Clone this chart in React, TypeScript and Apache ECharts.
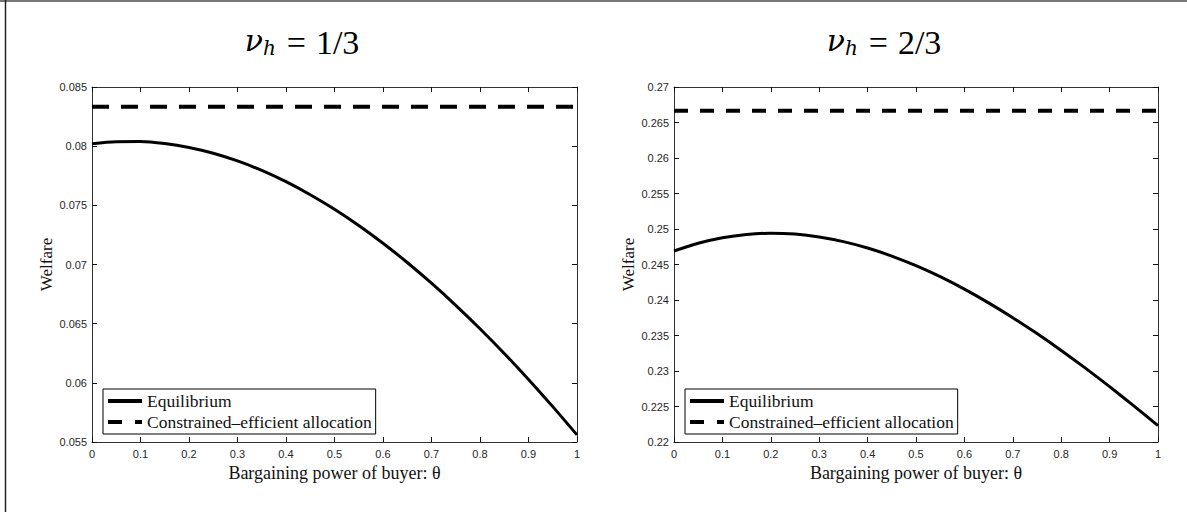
import React, { useEffect, useRef } from "react";
import * as echarts from "echarts";

const THETA = [0, 0.05, 0.1, 0.15, 0.2, 0.25, 0.3, 0.35, 0.4, 0.45, 0.5, 0.55, 0.6, 0.65, 0.7, 0.75, 0.8, 0.85, 0.9, 0.95, 1.0];
const EQ_LEFT = [0.0802, 0.08038, 0.08039, 0.08022, 0.07989, 0.0794, 0.07875, 0.07795, 0.077, 0.0759, 0.07467, 0.0733, 0.0718, 0.07017, 0.06842, 0.06655, 0.06457, 0.06248, 0.06029, 0.05799, 0.0556];
const EQ_RIGHT = [0.2469, 0.248, 0.24878, 0.24924, 0.2494, 0.24928, 0.24888, 0.24822, 0.24732, 0.24619, 0.24483, 0.24328, 0.24153, 0.2396, 0.23751, 0.23527, 0.2329, 0.2304, 0.22779, 0.22509, 0.2223];
const CE_LEFT = 0.08333;
const CE_RIGHT = 0.26667;
const SERIES_NAMES = ["Equilibrium", "Constrained–efficient allocation"];
const TITLES = ["1/3", "2/3"];
const X_NAME = "Bargaining power of buyer: θ";
const Y_NAME = "Welfare";
const Y_RANGES = [
  { min: 0.055, max: 0.085, interval: 0.005 },
  { min: 0.22, max: 0.27, interval: 0.005 },
];

const SERIF = "'Liberation Serif', 'Times New Roman', serif";
const SANS = "'Liberation Sans', Arial, sans-serif";

export default function App() {
  const ref = useRef<HTMLDivElement>(null);
  useEffect(() => {
    if (!ref.current) return;
    const chart = echarts.init(ref.current, null, { renderer: "svg" });
    const grids = [
      { left: 92, top: 87, width: 485, height: 355 },
      { left: 674, top: 87, width: 484, height: 355 },
    ];
    const xAxes: any[] = [];
    const yAxes: any[] = [];
    grids.forEach((g, gi) => {
      xAxes.push({
        type: "value", gridIndex: gi, min: 0, max: 1, interval: 0.1, position: "bottom",
        name: X_NAME, nameLocation: "middle", nameGap: 16,
        nameTextStyle: { fontFamily: SERIF, fontSize: 18, color: "#111" },
        axisLine: { show: true, onZero: false, lineStyle: { color: "#333", width: 1 } },
        axisTick: { show: true, inside: true, length: 5, lineStyle: { color: "#111" } },
        axisLabel: { show: true, margin: 6, fontFamily: SANS, fontSize: 11, color: "#262626" },
        splitLine: { show: false },
      });
      xAxes.push({
        type: "value", gridIndex: gi, min: 0, max: 1, interval: 0.1, position: "top",
        axisLine: { show: true, onZero: false, lineStyle: { color: "#333", width: 1 } },
        axisTick: { show: true, inside: true, length: 5, lineStyle: { color: "#111" } },
        axisLabel: { show: false },
        splitLine: { show: false },
      });
      const yr = Y_RANGES[gi];
      yAxes.push({
        type: "value", gridIndex: gi, min: yr.min, max: yr.max, interval: yr.interval, position: "left",
        name: Y_NAME, nameLocation: "middle", nameGap: 37,
        nameTextStyle: { fontFamily: SERIF, fontSize: 17, color: "#111" },
        axisLine: { show: true, onZero: false, lineStyle: { color: "#333", width: 1 } },
        axisTick: { show: true, inside: true, length: 5, lineStyle: { color: "#111" } },
        axisLabel: { show: true, margin: 5, fontFamily: SANS, fontSize: 11, color: "#262626" },
        splitLine: { show: false },
      });
      yAxes.push({
        type: "value", gridIndex: gi, min: yr.min, max: yr.max, interval: yr.interval, position: "right",
        axisLine: { show: true, onZero: false, lineStyle: { color: "#333", width: 1 } },
        axisTick: { show: true, inside: true, length: 5, lineStyle: { color: "#111" } },
        axisLabel: { show: false },
        splitLine: { show: false },
      });
    });

    const eqData = [EQ_LEFT, EQ_RIGHT];
    const ceVals = [CE_LEFT, CE_RIGHT];
    const dashes = [[17, 12], [14, 12]];
    const series: any[] = [];
    [0, 1].forEach((gi) => {
      series.push({
        name: SERIES_NAMES[0], type: "line", xAxisIndex: gi * 2, yAxisIndex: gi * 2,
        data: THETA.map((t, i) => [t, eqData[gi][i]]),
        symbol: "none", smooth: 0.3,
        lineStyle: { color: "#000", width: 3 }, itemStyle: { color: "#000" },
      });
      series.push({
        name: SERIES_NAMES[1], type: "line", xAxisIndex: gi * 2, yAxisIndex: gi * 2,
        data: [[0, ceVals[gi]], [1, ceVals[gi]]],
        symbol: "none",
        lineStyle: { color: "#000", width: 4, type: dashes[gi] }, itemStyle: { color: "#000" },
      });
    });

    const legendLefts = [103, 685];
    const legends = legendLefts.map((l) => ({
      data: [
        { name: SERIES_NAMES[0], icon: "path://M0,0h34v4h-34z" },
        { name: SERIES_NAMES[1], icon: "path://M0,0h14v4h-14z M27,0h7v4h-7z" },
      ],
      left: l, top: 389, orient: "vertical",
      selectedMode: false,
      backgroundColor: "#fff",
      borderColor: "#000", borderWidth: 1, borderRadius: 0,
      padding: [3, 4, 3, 5], itemGap: 3, itemWidth: 34, itemHeight: 4,
      itemStyle: { color: "#000", borderWidth: 0 },
      textStyle: { fontFamily: SERIF, fontSize: 17.5, color: "#111" },
    }));

    const titleCenters = [302, 884];
    const graphic: any[] = [
      { type: "line", shape: { x1: 0, y1: 1, x2: 1187, y2: 1 }, style: { stroke: "#777", lineWidth: 2 } },
      { type: "line", shape: { x1: 5.5, y1: 0, x2: 5.5, y2: 512 }, style: { stroke: "#222", lineWidth: 1.5 } },
    ];
    titleCenters.forEach((cx, i) => {
      graphic.push({
        type: "text", x: cx, y: 45,
        style: {
          text: `{a|ν}{b|h}{c|=}{d|${TITLES[i]}}`,
          align: "center", verticalAlign: "middle",
          rich: {
            a: { fontFamily: "'DejaVu Serif', serif", fontStyle: "italic", fontSize: 30, lineHeight: 40, verticalAlign: "top", fill: "#000" },
            b: { fontFamily: "'DejaVu Serif', serif", fontStyle: "italic", fontSize: 20, lineHeight: 22, padding: [13, 0, 0, 0], verticalAlign: "top", fill: "#000" },
            c: { fontFamily: SERIF, fontSize: 34, lineHeight: 40, padding: [0, 10, 0, 11], verticalAlign: "top", fill: "#000" },
            d: { fontFamily: SERIF, fontSize: 34, lineHeight: 40, verticalAlign: "top", fill: "#000" },
          },
        },
      });
    });

    chart.setOption({
      animation: false,
      backgroundColor: "#fff",
      grid: grids,
      xAxis: xAxes,
      yAxis: yAxes,
      legend: legends,
      series,
      graphic,
    });
    return () => chart.dispose();
  }, []);
  return (
    <div
      ref={ref}
      style={{ position: "fixed", left: 0, top: 0, width: 1187, height: 512, background: "#fff" }}
    />
  );
}
